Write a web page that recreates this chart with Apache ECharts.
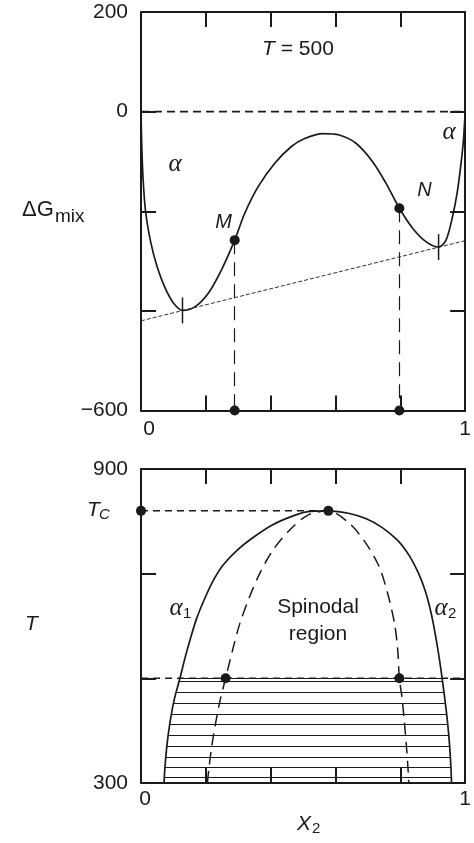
<!DOCTYPE html>
<html>
<head>
<meta charset="utf-8">
<script src="https://cdn.jsdelivr.net/npm/echarts@6/dist/echarts.min.js"></script>
<style>
  html, body { margin: 0; padding: 0; background: #fff; }
  #chart { width: 474px; height: 843px; }
</style>
</head>
<body>
<div id="chart"></div>
<script>
// ---- Upper panel: free energy of mixing at T = 500 ----
const dgX = [0, 0.002, 0.006, 0.014, 0.03, 0.05, 0.075, 0.1, 0.128, 0.166, 0.207, 0.248, 0.289,
             0.32, 0.361, 0.412, 0.464, 0.505, 0.561, 0.612, 0.664, 0.715, 0.756, 0.797,
             0.838, 0.879, 0.918, 0.941, 0.961, 0.976, 0.988, 0.995, 1];
const dgY = [0, -60, -130, -200, -262, -312, -355, -384, -399, -392, -365, -318, -258,
             -204, -151, -104, -70, -54, -44, -47, -64, -101, -144, -194,
             -234, -261, -272, -258, -211, -160, -100, -55, 0];
const tangentLine = [[0, -420], [1, -259]];       // common tangent
const tangentPoints = [[0.128, -399], [0.918, -272]];
const spinodalPoints = [[0.289, -258], [0.797, -194]];
const spinodalNames = ['M', 'N'];
const dgMin = -600, dgMax = 200;
const dgTickLabels = [200, 0, -600];

// ---- Lower panel: miscibility gap ----
const binodal = [[0.071, 300], [0.074, 331], [0.080, 372], [0.089, 414], [0.102, 458], [0.120, 500],
                 [0.137, 542], [0.153, 577], [0.172, 615], [0.197, 653], [0.224, 688], [0.254, 717],
                 [0.297, 745], [0.348, 770], [0.405, 793], [0.459, 808], [0.510, 818], [0.578, 820],
                 [0.643, 815], [0.695, 805], [0.742, 789], [0.791, 764], [0.828, 734], [0.856, 701],
                 [0.879, 663], [0.897, 619], [0.911, 573], [0.921, 535], [0.929, 500], [0.939, 452],
                 [0.946, 414], [0.952, 372], [0.956, 331], [0.958, 300]];
const spinodal = [[0.205, 300], [0.209, 325], [0.218, 369], [0.230, 414], [0.244, 458], [0.261, 500],
                  [0.285, 560], [0.305, 605], [0.335, 656], [0.366, 700], [0.407, 745], [0.458, 783],
                  [0.515, 812], [0.578, 820], [0.643, 796], [0.694, 758], [0.735, 713], [0.761, 662],
                  [0.782, 605], [0.792, 554], [0.797, 500], [0.805, 464], [0.812, 420], [0.819, 369],
                  [0.824, 324], [0.826, 300]];
const critical = [0.578, 820];
const isotherm = 500;
const spinodalAtIsotherm = [0.261, 0.797];
const tieT     = [500, 494, 473, 453, 432, 412, 391, 371, 350, 331, 311];
const tieLeft  = [0.120, 0.117, 0.108, 0.100, 0.094, 0.089, 0.084, 0.080, 0.077, 0.074, 0.072];
const tieRight = [0.929, 0.930, 0.935, 0.939, 0.943, 0.946, 0.949, 0.952, 0.954, 0.956, 0.957];
const tMin = 300, tMax = 900;
const tTickLabels = [900, 300];
const xTickLabels = [0, 1];

const INK = '#1a1a1a';
const SANS = '"Liberation Sans", Arial, Helvetica, sans-serif';
const SERIF = '"Liberation Serif", "Times New Roman", serif';

function fmtNum(v) { return v < 0 ? '\u2212' + Math.abs(v) : String(v); }

function xAxis(grid, pos, labels, margin, zeroPad) {
  return {
    type: 'value', gridIndex: grid, position: pos, min: 0, max: 1, interval: 0.2,
    axisLine: { show: true, onZero: false, lineStyle: { color: INK, width: 2 } },
    axisTick: { show: true, inside: true, length: 15, lineStyle: { color: INK, width: 2 } },
    axisLabel: {
      show: !!labels, margin: margin || 8, color: INK, fontFamily: SANS, fontSize: 21,
      formatter: v => {
        if (!labels || !labels.some(l => Math.abs(l - v) < 1e-9)) return '';
        return v === 0 ? '{z|0}' : fmtNum(v);
      },
      rich: { z: { padding: [0, 0, 0, zeroPad || 0], fontSize: 21, fontFamily: SANS, color: INK } }
    },
    splitLine: { show: false }
  };
}
function yAxis(grid, pos, min, max, labels) {
  return {
    type: 'value', gridIndex: grid, position: pos, min: min, max: max, interval: 200,
    axisLine: { show: true, onZero: false, lineStyle: { color: INK, width: 2 } },
    axisTick: { show: true, inside: true, length: 15, lineStyle: { color: INK, width: 2 } },
    axisLabel: {
      show: !!labels, margin: 13, color: INK, fontFamily: SANS, fontSize: 21,
      formatter: v => (labels && labels.indexOf(v) >= 0) ? fmtNum(v) : ''
    },
    splitLine: { show: false }
  };
}

const dgCurve = dgX.map((x, i) => [x, dgY[i]]);
const dot = { symbol: 'circle', symbolSize: 10, itemStyle: { color: INK, opacity: 1 } };

const option = {
  animation: false,
  backgroundColor: '#fff',
  grid: [
    { left: 141, right: 8, top: 12, height: 398.5 },
    { left: 141, right: 8, top: 469, height: 314 }
  ],
  xAxis: [
    xAxis(0, 'bottom', xTickLabels, 8, 16),
    xAxis(0, 'top', null),
    xAxis(1, 'bottom', xTickLabels, 6, 8),
    xAxis(1, 'top', null)
  ],
  yAxis: [
    yAxis(0, 'left', dgMin, dgMax, dgTickLabels),
    yAxis(0, 'right', dgMin, dgMax, null),
    yAxis(1, 'left', tMin, tMax, tTickLabels),
    yAxis(1, 'right', tMin, tMax, null)
  ],
  series: [
    // upper panel
    { type: 'line', xAxisIndex: 0, yAxisIndex: 0, symbol: 'none', silent: true,
      data: [[0, 0], [1, 0]], lineStyle: { color: INK, width: 1.6, type: [8, 5] } },
    { type: 'line', xAxisIndex: 0, yAxisIndex: 0, symbol: 'none', silent: true,
      data: tangentLine, lineStyle: { color: '#333', width: 1, type: [4, 2] } },
    { type: 'line', xAxisIndex: 0, yAxisIndex: 0, symbol: 'none', smooth: 0.3, silent: true,
      data: dgCurve, lineStyle: { color: INK, width: 1.7 } },
    { type: 'scatter', xAxisIndex: 0, yAxisIndex: 0, silent: true,
      symbol: 'rect', symbolSize: [1.5, 26], itemStyle: { color: INK, opacity: 1 }, data: tangentPoints },
    { type: 'lines', coordinateSystem: 'cartesian2d', xAxisIndex: 0, yAxisIndex: 0, silent: true,
      lineStyle: { color: INK, width: 1.2, type: [14, 8], opacity: 1 },
      data: spinodalPoints.map(p => ({ coords: [p, [p[0], dgMin]] })) },
    { type: 'scatter', xAxisIndex: 0, yAxisIndex: 0, silent: true, ...dot, z: 5,
      data: spinodalPoints.map((p, i) => ({
        value: p,
        label: {
          show: true, formatter: spinodalNames[i], color: INK, fontFamily: SANS,
          fontStyle: 'italic', fontSize: 20, position: 'inside',
          offset: i === 0 ? [-11, -18] : [25, -18]
        }
      })) },
    { type: 'scatter', xAxisIndex: 0, yAxisIndex: 0, silent: true, ...dot, z: 5,
      data: spinodalPoints.map(p => [p[0], dgMin]) },

    // lower panel
    { type: 'line', xAxisIndex: 2, yAxisIndex: 2, symbol: 'none', silent: true,
      data: [[0, critical[1]], critical], lineStyle: { color: INK, width: 1.5, type: [7, 5] } },
    { type: 'line', xAxisIndex: 2, yAxisIndex: 2, symbol: 'none', silent: true,
      data: [[0, isotherm], [1, isotherm]], lineStyle: { color: INK, width: 1.5, type: [7, 5] } },
    { type: 'lines', coordinateSystem: 'cartesian2d', xAxisIndex: 2, yAxisIndex: 2, silent: true,
      lineStyle: { color: INK, width: 1.1, type: 'solid', opacity: 1 },
      data: tieT.map((t, i) => ({ coords: [[tieLeft[i], t], [tieRight[i], t]] })) },
    { type: 'line', xAxisIndex: 2, yAxisIndex: 2, symbol: 'none', smooth: 0.3, silent: true,
      data: binodal, lineStyle: { color: INK, width: 1.7 } },
    { type: 'line', xAxisIndex: 2, yAxisIndex: 2, symbol: 'none', smooth: 0.3, silent: true,
      data: spinodal, lineStyle: { color: INK, width: 1.5, type: [12, 7] } },
    { type: 'scatter', xAxisIndex: 2, yAxisIndex: 2, silent: true, ...dot, z: 5,
      data: [[0, critical[1]], critical].concat(spinodalAtIsotherm.map(x => [x, isotherm])) }
  ],
  graphic: [
    { type: 'text', x: 298, y: 49, style: { text: '{i|T} = 500', align: 'center', verticalAlign: 'middle',
      fill: INK, font: '21px ' + SANS,
      rich: { i: { fontStyle: 'italic', fontSize: 21, fontFamily: SANS, fill: INK } } } },
    { type: 'text', x: 175, y: 164, style: { text: '\u03b1', align: 'center', verticalAlign: 'middle',
      fill: INK, font: 'italic 25px ' + SERIF } },
    { type: 'text', x: 449, y: 132, style: { text: '\u03b1', align: 'center', verticalAlign: 'middle',
      fill: INK, font: 'italic 25px ' + SERIF } },
    { type: 'text', x: 22, y: 210, style: { text: '\u0394G', align: 'left', verticalAlign: 'middle',
      fill: INK, font: '22px ' + SANS } },
    { type: 'text', x: 55, y: 217, style: { text: 'mix', align: 'left', verticalAlign: 'middle',
      fill: INK, font: '19px ' + SANS } },

    { type: 'text', x: 87, y: 510, style: { text: 'T', align: 'left', verticalAlign: 'middle',
      fill: INK, font: 'italic 21px ' + SANS } },
    { type: 'text', x: 99, y: 515, style: { text: 'C', align: 'left', verticalAlign: 'middle',
      fill: INK, font: 'italic 15px ' + SANS } },
    { type: 'text', x: 25, y: 624, style: { text: 'T', align: 'left', verticalAlign: 'middle',
      fill: INK, font: 'italic 21px ' + SANS } },
    { type: 'text', x: 176, y: 608, style: { text: '\u03b1', align: 'center', verticalAlign: 'middle',
      fill: INK, font: 'italic 25px ' + SERIF } },
    { type: 'text', x: 183, y: 614, style: { text: '1', align: 'left', verticalAlign: 'middle',
      fill: INK, font: '15px ' + SANS } },
    { type: 'text', x: 441, y: 608, style: { text: '\u03b1', align: 'center', verticalAlign: 'middle',
      fill: INK, font: 'italic 25px ' + SERIF } },
    { type: 'text', x: 448, y: 614, style: { text: '2', align: 'left', verticalAlign: 'middle',
      fill: INK, font: '15px ' + SANS } },
    { type: 'text', x: 318, y: 607, style: { text: 'Spinodal', align: 'center', verticalAlign: 'middle',
      fill: INK, font: '21px ' + SANS } },
    { type: 'text', x: 318, y: 634, style: { text: 'region', align: 'center', verticalAlign: 'middle',
      fill: INK, font: '21px ' + SANS } },
    { type: 'text', x: 297, y: 824, style: { text: 'X', align: 'left', verticalAlign: 'middle',
      fill: INK, font: 'italic 21px ' + SANS } },
    { type: 'text', x: 312, y: 829, style: { text: '2', align: 'left', verticalAlign: 'middle',
      fill: INK, font: '15px ' + SANS } }
  ]
};

const chart = echarts.init(document.getElementById('chart'), null, { renderer: 'canvas' });
chart.setOption(option);
</script>
</body>
</html>
